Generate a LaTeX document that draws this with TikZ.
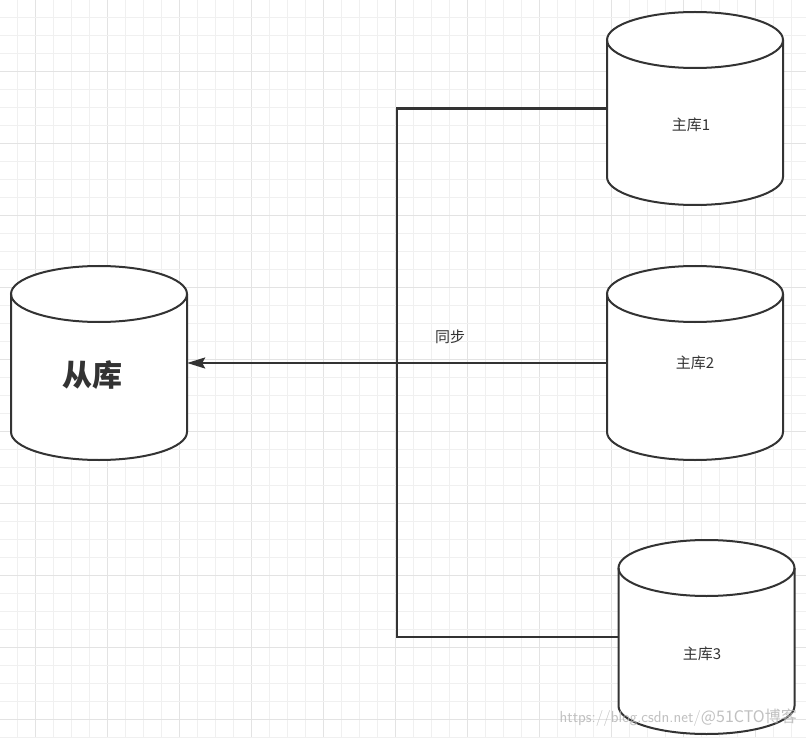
\documentclass[tikz,border=0pt]{standalone}
\usepackage{fontspec}
\setmainfont{Noto Sans CJK SC}
\newfontfamily\cjk{Noto Sans CJK SC}
\usetikzlibrary{arrows.meta}
\definecolor{ink}{HTML}{333333}
\definecolor{gridminor}{HTML}{F0F0F0}
\definecolor{gridmajor}{HTML}{E3E3E3}
\newcommand\dbcyl[5]{% cx, top, bottom, rx, ry (pixel units, y downward)
  \fill[white] ({#1-#4},{-(#2+#5)}) -- ({#1-#4},{-(#3-#5)})
    arc[start angle=180,end angle=360,x radius=#4pt,y radius=#5pt]
    -- ({#1+#4},{-(#2+#5)})
    arc[start angle=0,end angle=180,x radius=#4pt,y radius=#5pt] -- cycle;
  \draw[cylline] ({#1},{-(#2+#5)}) ellipse[x radius=#4pt,y radius=#5pt];
  \draw[cylline] ({#1-#4},{-(#2+#5)}) -- ({#1-#4},{-(#3-#5)})
    arc[start angle=180,end angle=360,x radius=#4pt,y radius=#5pt]
    -- ({#1+#4},{-(#2+#5)});
}
\begin{document}
\begin{tikzpicture}[x=1pt,y=1pt,
  cylline/.style={draw=ink,line width=2pt},
  conn/.style={draw=ink,line width=2.2pt},
  cylbox/.style={rectangle,inner sep=0pt,minimum width=176pt},
  lbl/.style={text=ink,font=\cjk\fontsize{15}{18}\selectfont,inner sep=0pt},
  biglbl/.style={text=ink,font=\cjk\bfseries\fontsize{30}{34}\selectfont,inner sep=0pt}]
\useasboundingbox (0,0) rectangle (806,-738);
\fill[white] (0,0) rectangle (806,-738);
% grid
\foreach \k in {0,...,45}{
  \pgfmathsetmacro\gx{-0.5+18*\k}
  \pgfmathtruncatemacro\mk{mod(\k,4)}
  \ifnum\mk=2
    \draw[gridmajor,line width=1pt] (\gx,0) -- (\gx,-738);
  \else
    \draw[gridminor,line width=1pt] (\gx,0) -- (\gx,-738);
  \fi
}
\foreach \k in {0,...,41}{
  \pgfmathsetmacro\gy{-0.5+18*\k}
  \pgfmathtruncatemacro\mk{mod(\k,4)}
  \ifnum\mk=0
    \draw[gridmajor,line width=1pt] (0,-\gy) -- (806,-\gy);
  \else
    \draw[gridminor,line width=1pt] (0,-\gy) -- (806,-\gy);
  \fi
}
% cylinders
\dbcyl{99}{266}{460}{88}{28}
\dbcyl{695}{12}{205}{88}{28}
\dbcyl{695}{266}{460}{88}{28}
\dbcyl{706.5}{540}{734}{88}{28}
% anchor nodes
\node[cylbox,minimum height=194pt] (slave) at (99,-363) {};
\node[cylbox,minimum height=193pt] (m1) at (695,-108.5) {};
\node[cylbox,minimum height=194pt] (m2) at (695,-363) {};
\node[cylbox,minimum height=194pt] (m3) at (706.5,-637) {};
% labels
\node[biglbl] (tslave) at (92,-375) {从库};
\node[lbl] (t1) at (691,-125) {主库1};
\node[lbl] (t2) at (695,-363) {主库2};
\node[lbl] (t3) at (702,-654) {主库3};
\node[lbl] (sync) at (450,-337) {同步};
% connectors
\coordinate (jn) at (397,-363);
\draw[conn] (m1.west) -| (jn) |- (m3.west);
\draw[conn,-{Stealth[length=18pt,width=11pt,inset=3pt]}] (m2.west) -- (slave.east);
% watermark
\node[text=black!30,opacity=0.8,font=\fontfamily{lmss}\selectfont\fontsize{16}{18}\selectfont,inner sep=0pt,anchor=east] (wm) at (797,-718) {https://blog.csdn.net/\cjk\fontsize{16}{18}\selectfont @51CTO博客};
\end{tikzpicture}
\end{document}
